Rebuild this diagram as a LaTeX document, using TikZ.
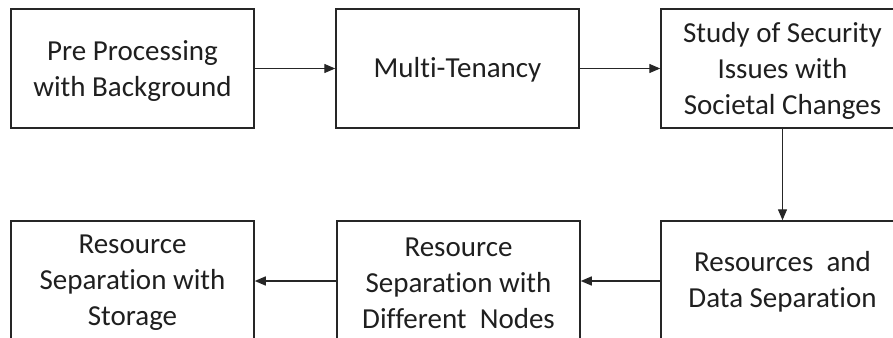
\documentclass[tikz,border=0pt]{standalone}
\usepackage{fontspec}
\setmainfont{Carlito}[Ligatures=NoCommon]
\usetikzlibrary{arrows.meta}
\begin{document}
\begin{tikzpicture}[x=1pt,y=1pt,
  stage/.style={draw=black!85, line width=1.5pt, minimum width=243pt,
    minimum height=119pt, inner sep=0pt},
  caption/.style={inner sep=0pt, align=center, text=black!88,
    font=\fontsize{29}{36}\selectfont},
  flow/.style={draw=black!85, line width=1.4pt,
    -{Triangle[length=11pt,width=9pt]}}]
  \useasboundingbox (0,0) rectangle (893,-337);
  \clip (0,0) rectangle (893,-337);
  % top row
  \node[stage] (pre) at (132.5,-68.5) {};
  \node[stage] (mt)  at (457.5,-68.5) {};
  \node[stage] (sec) at (782.5,-68.5) {};
  % bottom row
  \node[stage, minimum height=120pt] (rds) at (782.5,-281) {};
  \node[stage, minimum height=120pt] (rdn) at (458.5,-281) {};
  \node[stage, minimum height=120pt] (rst) at (132.5,-281) {};
  % box texts
  \node[caption] (preT) at ([yshift=-3pt]pre.center) {Pre Processing\\with Background};
  \node[caption] (mtT)  at ([yshift=-1pt]mt.center) {Multi-Tenancy};
  \node[caption] (secT) at ([yshift=-2pt]sec.center) {Study of Security\\Issues with\\Societal Changes};
  \node[caption] (rdsT) at ([yshift=-1pt]rds.center) {Resources\ \ and\\Data Separation};
  \node[caption] (rdnT) at ([yshift=-2pt]rdn.center) {Resource\\Separation with\\Different\ \ Nodes};
  \node[caption] (rstT) at ([yshift=-2pt]rst.center) {Resource\\Separation with\\Storage};
  % connectors
  \draw[flow] (pre.east) -- (mt.west);
  \draw[flow] (mt.east) -- (sec.west);
  \draw[flow] (sec.south) -- (rds.north);
  \draw[flow] (rds.west) -- (rdn.east);
  \draw[flow] (rdn.west) -- (rst.east);
\end{tikzpicture}
\end{document}
